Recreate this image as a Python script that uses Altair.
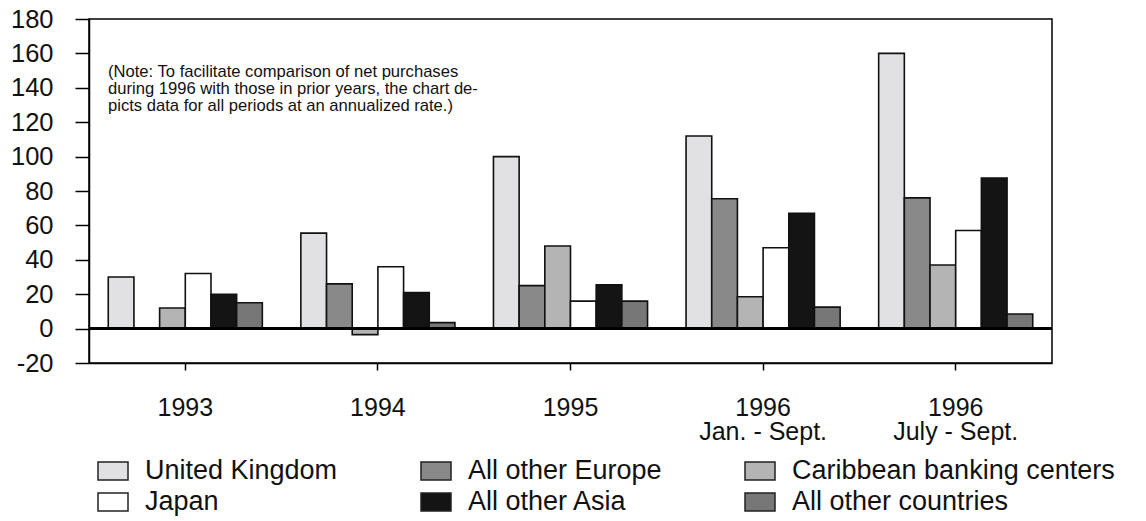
import altair as alt
import pandas as pd

# ---- data ----
periods = ["1993", "1994", "1995", "1996|Jan.  - Sept.", "1996|July - Sept."]
series = ["United Kingdom", "All other Europe", "Caribbean banking centers",
          "Japan", "All other Asia", "All other countries"]
colors = ["#e1e1e3", "#898989", "#b4b4b4", "#ffffff", "#141414", "#777777"]

uk = [30, 55.5, 100, 112, 160]
other_europe = [0, 26, 25, 75.5, 76]
caribbean = [12, -3.5, 48, 18.5, 37]
japan = [32, 36, 16, 47, 57]
other_asia = [20, 21, 25.5, 67, 87.5]
other_countries = [15, 3.5, 16, 12.5, 8.5]

y_ticks = [-20, 0, 20, 40, 60, 80, 100, 120, 140, 160, 180]
note_lines = ["(Note: To facilitate comparison of net purchases",
              "during 1996 with those in prior years, the chart de-",
              "picts data for all periods at an annualized rate.)"]

values = [uk, other_europe, caribbean, japan, other_asia, other_countries]
rows = []
for s, vals in zip(series, values):
    for p, v in zip(periods, vals):
        rows.append({"period": p, "series": s, "value": v})
df = pd.DataFrame(rows)

FONT = "Liberation Sans"

y_scale = alt.Scale(domain=[-20, 180], nice=False, zero=False)
y_axis = alt.Axis(title=None, values=y_ticks, tickSize=14,
                  labelPadding=22, labelFontSize=25.5, grid=False,
                  labelOverlap=False, labelExpr="'' + datum.value")

bars = alt.Chart(df).mark_bar(stroke="#111111", strokeWidth=1.6).encode(
    x=alt.X("period:N", sort=periods,
            scale=alt.Scale(paddingInner=0.2, paddingOuter=0.1),
            axis=alt.Axis(title=None, labelAngle=0,
                          labelExpr="split(datum.label, '|')",
                          labelFontSize=25, labelLineHeight=24.5,
                          tickSize=7, labelPadding=25)),
    xOffset=alt.XOffset("series:N", sort=series,
                        scale=alt.Scale(paddingInner=0, paddingOuter=0)),
    y=alt.Y("value:Q", scale=y_scale, axis=y_axis),
    color=alt.Color("series:N", sort=series,
                    scale=alt.Scale(domain=series, range=colors),
                    legend=alt.Legend(
                        title=None, orient="none", legendX=8, legendY=436,
                        direction="horizontal",
                        columns=3, columnPadding=80, rowPadding=2,
                        padding=0, offset=0,
                        symbolType="M-1,-0.6L1,-0.6L1,0.6L-1,0.6Z",
                        symbolSize=900, symbolStrokeColor="#222222",
                        symbolStrokeWidth=1.5, symbolOpacity=1,
                        labelFontSize=27, labelOffset=16, labelLimit=500,
                        labelFont=FONT, labelColor="#111111")),
)

zero = alt.Chart(df).mark_rule(color="black", strokeWidth=1.5).encode(
    y=alt.Y(datum=0, scale=y_scale, axis=y_axis)
)

note = alt.Chart(pd.DataFrame({"k": [0]})).mark_text(
    text=note_lines, align="left", baseline="top",
    font=FONT, fontSize=16.6, lineHeight=17, color="#111111"
).encode(x=alt.value(19), y=alt.value(45))

chart = alt.layer(bars, zero, note).properties(
    width=963, height=344,
    autosize=alt.AutoSizeParams(type="none"),
    padding={"left": 81, "top": 11, "right": 86, "bottom": 156},
).configure_view(
    stroke="black", strokeWidth=1.5
).configure_axis(
    labelFont=FONT, labelColor="#111111", domainColor="black",
    tickColor="black", domainWidth=1.5, tickWidth=1.5
)

chart.save("out.html", embed_options={"renderer": "svg", "actions": False})
